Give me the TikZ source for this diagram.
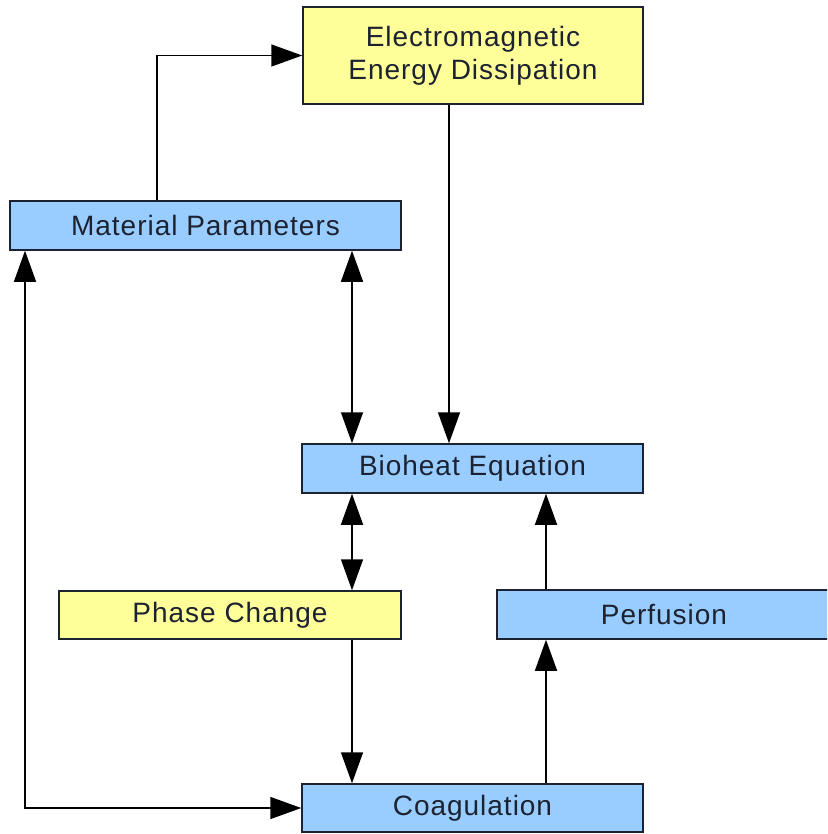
\documentclass[tikz,border=0pt]{standalone}
\usepackage{fontspec}
\setmainfont[LetterSpace=3.5]{Liberation Sans}
\usetikzlibrary{arrows.meta}
\definecolor{boxyellow}{HTML}{FFFF99}
\definecolor{boxblue}{HTML}{99CCFF}
\definecolor{inkdark}{HTML}{1C2230}
\tikzset{
  block/.style={draw=inkdark, line width=1.5pt, rectangle, inner sep=0pt,
    text=inkdark, font=\fontsize{28}{33}\selectfont, align=center},
  yblock/.style={block, fill=boxyellow},
  bblock/.style={block, fill=boxblue},
  flow/.style={draw=black, line width=1.5pt,
    -{Triangle[length=31pt,width=22pt]}},
  twoway/.style={draw=black, line width=1.5pt,
    {Triangle[length=31pt,width=22pt]}-{Triangle[length=31pt,width=22pt]}}
}
\begin{document}
\begin{tikzpicture}[x=1pt,y=-1pt]
\useasboundingbox (0,0) rectangle (827,834);
\clip (0,0) rectangle (827,834);
\fill[white] (0,0) rectangle (827,834);

% blocks
\node[yblock, minimum width=340pt, minimum height=97pt] (em) at (473,55.5)
  {Electromagnetic\\Energy Dissipation};
\node[bblock, minimum width=391pt, minimum height=49pt] (mp) at (205.5,225.5)
  {Material Parameters};
\node[bblock, minimum width=341pt, minimum height=49pt] (bio) at (472.5,468.5)
  {Bioheat Equation};
\node[yblock, minimum width=342pt, minimum height=48pt] (pc) at (230,615)
  {Phase Change};
\node[bblock, minimum width=334pt, minimum height=49pt] (perf) at (664,614.5)
  {Perfusion};
\node[bblock, minimum width=341pt, minimum height=48pt] (coag) at (472.5,808)
  {Coagulation};

% vertical guide lines for the connectors
\coordinate (gA) at (157,0);
\coordinate (gB) at (449,0);
\coordinate (gC) at (352,0);
\coordinate (gD) at (546,0);
\coordinate (gE) at (25,0);

% connectors
\draw[flow] (mp.north -| gA) |- (em.west);
\draw[flow] (em.south -| gB) -- (bio.north -| gB);
\draw[twoway] (mp.south -| gC) -- (bio.north -| gC);
\draw[twoway] (bio.south -| gC) -- (pc.north -| gC);
\draw[flow] (pc.south -| gC) -- (coag.north -| gC);
\draw[flow] (coag.north -| gD) -- (perf.south -| gD);
\draw[flow] (perf.north -| gD) -- (bio.south -| gD);
\draw[twoway] (mp.south -| gE) |- (coag.west);
\end{tikzpicture}
\end{document}
